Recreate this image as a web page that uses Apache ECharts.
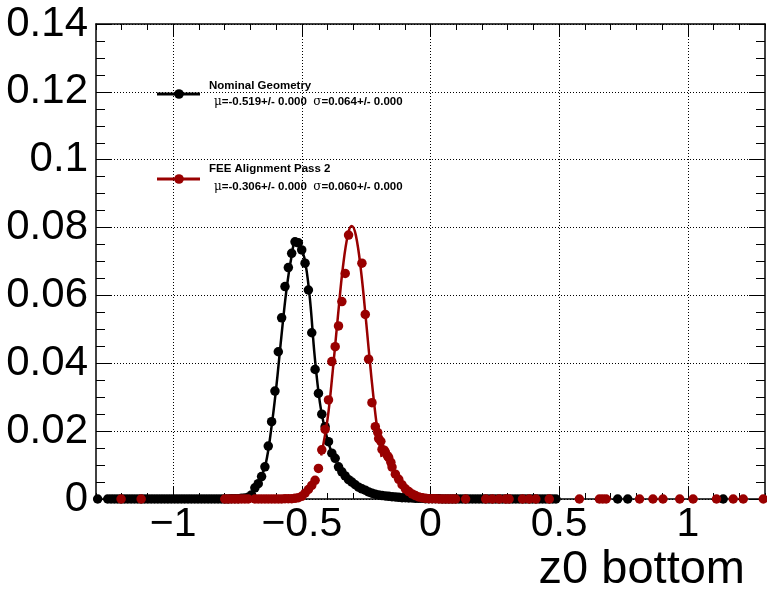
<!DOCTYPE html>
<html>
<head>
<meta charset="utf-8">
<script src="https://cdn.jsdelivr.net/npm/echarts@6/dist/echarts.min.js"></script>
<style>
html,body{margin:0;padding:0;background:#fff;}
#chart{width:767px;height:589px;}
</style>
</head>
<body>
<div id="chart"></div>
<script>
// ---------------- data ----------------
const xMajorTicks = [-1, -0.5, 0, 0.5, 1];
const yTicks = [0, 0.02, 0.04, 0.06, 0.08, 0.1, 0.12, 0.14];

// Nominal Geometry (black) histogram points
const nominalX = [
 -1.2935,-1.2545,-1.2415,-1.2285,-1.2155,-1.2025,-1.1895,-1.1765,-1.1635,-1.1505,
 -1.1375,-1.1245,-1.1115,-1.0985,-1.0855,-1.0725,-1.0595,-1.0465,-1.0335,-1.0205,
 -1.0075,-0.9945,-0.9815,-0.9685,-0.9555,-0.9425,-0.9295,-0.9165,-0.9035,-0.8905,
 -0.8775,-0.8645,-0.8515,-0.8385,-0.8255,-0.8125,-0.7995,-0.7865,-0.7735,-0.7605,
 -0.7475,-0.7345,-0.7215,-0.7085,-0.6955,-0.6825,-0.6695,-0.6565,-0.6435,-0.6305,
 -0.6175,-0.6045,-0.5915,-0.5785,-0.5655,-0.5525,-0.5395,-0.5265,-0.5135,-0.5005,
 -0.4875,-0.4745,-0.4615,-0.4485,-0.4355,-0.4225,-0.4095,-0.3965,-0.3835,-0.3705,
 -0.3575,-0.3445,-0.3315,-0.3185,-0.3055,-0.2925,-0.2795,-0.2665,-0.2535,-0.2405,
 -0.2275,-0.2145,-0.2015,-0.1885,-0.1755,-0.1625,-0.1495,-0.1365,-0.1235,-0.1105,
 -0.0975,-0.0845,-0.0715,-0.0585,-0.0455,-0.0325,-0.0195,-0.0065,0.0065,0.0195,
 0.0325,0.0455,0.0585,0.0715,0.0845,0.0975,0.1105,0.1235,0.1365,0.1495,
 0.1625,0.1755,0.1885,0.2015,0.2145,0.2275,0.2405,0.2535,0.2665,0.2795,
 0.2925,0.3055,0.3185,0.3315,0.3445,0.3575,0.3705,0.3835,0.3965,0.4095,
 0.4225,0.4355,0.4485,0.4615,0.4745,0.4875,0.7275,0.7665,1.1375
];
const nominalY = [
 0,0,0,0,0,0,0,0,0,0,
 0,0,0,0,0,0,0,0,0,0,
 0,0,0,0,0,0,0,0,0,0,
 0,0,0,0,0,0,0,0,0.0001,0.0001,
 0.0001,0.0002,0.0003,0.0005,0.0012,0.0033,0.0045,0.0066,0.0095,0.0156,
 0.0228,0.0318,0.0434,0.0534,0.0626,0.0682,0.0724,0.0758,0.0755,0.0734,
 0.0695,0.0616,0.0490,0.0382,0.0311,0.0250,0.0213,0.0169,0.0135,0.0120,
 0.0095,0.0080,0.0068,0.0057,0.0050,0.0042,0.0035,0.0030,0.0026,0.0021,
 0.0017,0.0014,0.0012,0.0010,0.0009,0.0008,0.0007,0.0006,0.0005,0.0004,
 0.0004,0.0003,0.0003,0.0002,0.0002,0.0002,0.0001,0.0001,0.0001,0.0001,
 0.0001,0,0,0,0,0,0,0,0,0,
 0,0,0,0,0,0,0,0,0,0,
 0,0,0,0,0,0,0,0,0,0,
 0,0,0,0,0,0,0,0,0
];
// Nominal fit curve
const nominalFitX = [-0.80,-0.75,-0.72,-0.70,-0.68,-0.66,-0.64,-0.62,-0.60,-0.58,-0.56,-0.54,-0.525,-0.51,-0.49,-0.47,-0.45,-0.43,-0.41,-0.39,-0.37];
const nominalFitY = [0.0000,0.0002,0.0006,0.0013,0.0030,0.0060,0.0105,0.0200,0.0325,0.0475,0.0615,0.0715,0.0756,0.0750,0.0710,0.0600,0.0420,0.0285,0.0205,0.0150,0.0115];

// FEE Alignment Pass 2 (dark red) histogram points
const feeX = [
 -1.2025,-1.1245,-0.7995,-0.7865,-0.7735,-0.7605,-0.7475,-0.7345,-0.7215,-0.7085,
 -0.6825,-0.6695,-0.6565,-0.6435,-0.6305,-0.6175,-0.6045,-0.5915,-0.5785,-0.5655,
 -0.5525,-0.5395,-0.5265,-0.5135,-0.5005,-0.4875,-0.4745,-0.4615,-0.4485,-0.4355,
 -0.4225,-0.4095,-0.3965,-0.3835,-0.3705,-0.3575,-0.3445,-0.3315,-0.3185,-0.2665,
 -0.2535,-0.2405,-0.2275,-0.2145,-0.2050,-0.2015,-0.1930,-0.1885,-0.1800,-0.1755,
 -0.1670,-0.1625,-0.1540,-0.1495,-0.1365,-0.1235,-0.1105,-0.0975,-0.0845,-0.0715,
 -0.0585,-0.0455,-0.0325,-0.0195,-0.0065,0.0065,0.0195,0.0325,0.0455,0.0585,
 0.0715,0.0845,0.0975,0.1365,0.2145,0.2405,0.2665,0.2925,0.3055,0.3575,
 0.3835,0.4095,0.4615,0.5785,0.6565,0.6695,0.6825,0.8125,0.8645,0.9035,
 0.9685,1.0205,1.1115,1.1765,1.2155,1.2935
];
const feeY = [
 0,0,0,0,0,0,0,0,0,0,
 0,0,0,0,0,0,0,0,0,0.0001,
 0.0001,0.0001,0.0002,0.0004,0.0008,0.0017,0.0028,0.0040,0.0055,0.0090,
 0.0145,0.0205,0.0292,0.0405,0.0449,0.0510,0.0582,0.0665,0.0778,0.0695,
 0.0544,0.0412,0.0284,0.0213,0.0196,0.0178,0.0170,0.0146,0.0144,0.0138,
 0.0127,0.0122,0.0108,0.0094,0.0073,0.0058,0.0042,0.0030,0.0022,0.0015,
 0.0010,0.0006,0.0004,0.0002,0.0001,0.0001,0.0001,0,0,0,
 0,0,0,0,0,0,0,0,0,0,
 0,0,0,0,0,0,0,0,0,0,
 0,0,0,0,0,0
];
// FEE fit curve
const feeFitX = [-0.425,-0.40,-0.38,-0.36,-0.34,-0.32,-0.306,-0.29,-0.27,-0.25,-0.23,-0.21,-0.19];
const feeFitY = [0.0128,0.0236,0.0377,0.0537,0.0686,0.0783,0.0805,0.0777,0.0672,0.0521,0.0361,0.0224,0.0124];

const legendTitles = ['Nominal Geometry', 'FEE Alignment Pass 2'];
const legendMu = ['-0.519', '-0.306'];
const legendSigma = ['0.064', '0.060'];
const seriesColors = ['#000000', '#990000'];
const axisTitle = 'z0 bottom';

// ---------------- chart ----------------
const zip = (xs, ys) => xs.map((x, i) => [x, ys[i]]);
const FONT = '"Liberation Sans", Arial, Helvetica, sans-serif';
const fmtX = v => (v < 0 ? '\u2212' + String(Math.abs(v)) : String(v));

const gridRect = {left: 96, right: 2, top: 24, bottom: 90};
const xBase = {type: 'value', min: -1.3, max: 1.3};
const yBase = {type: 'value', min: 0, max: 0.14, interval: 0.02};

const chart = echarts.init(document.getElementById('chart'), null, {renderer: 'canvas'});

function legendGraphic(i, yLine, yTitle, ySub) {
  return [
    {type: 'line', shape: {x1: 157, y1: yLine, x2: 200, y2: yLine}, style: {stroke: seriesColors[i], lineWidth: 3}, z: 100},
    {type: 'circle', shape: {cx: 179, cy: yLine, r: 4.8}, style: {fill: seriesColors[i]}, z: 101},
    {type: 'text', x: 209, y: yTitle, style: {text: legendTitles[i], font: 'bold 11.5px ' + FONT, fill: '#000', textVerticalAlign: 'middle'}, z: 100},
    {type: 'text', x: 214, y: ySub, style: {
      text: '{s|\u03bc}{b|=' + legendMu[i] + '+/- 0.000  }{s|\u03c3}{b|=' + legendSigma[i] + '+/- 0.000}',
      rich: {
        s: {font: '12px "DejaVu Serif", "Liberation Serif", serif', fill: '#000'},
        b: {font: 'bold 11.5px ' + FONT, fill: '#000'}
      },
      textVerticalAlign: 'middle'
    }, z: 100}
  ];
}

const option = {
  animation: false,
  backgroundColor: '#ffffff',
  grid: [Object.assign({}, gridRect), Object.assign({}, gridRect)],
  xAxis: [
    Object.assign({}, xBase, {gridIndex: 0, position: 'bottom', interval: 0.1,
      axisLine: {show: true, onZero: false, lineStyle: {color: '#000', width: 1.5}},
      axisTick: {show: true, inside: true, length: 6, lineStyle: {color: '#000', width: 1}},
      axisLabel: {show: false}, splitLine: {show: false}}),
    Object.assign({}, xBase, {gridIndex: 0, position: 'top', interval: 0.1,
      axisLine: {show: true, onZero: false, lineStyle: {color: '#000', width: 1.5}},
      axisTick: {show: true, inside: true, length: 6, lineStyle: {color: '#000', width: 1}},
      axisLabel: {show: false}, splitLine: {show: false}}),
    Object.assign({}, xBase, {gridIndex: 1, position: 'bottom',
      axisLine: {show: false, onZero: false},
      axisTick: {show: true, inside: true, length: 12, customValues: xMajorTicks, lineStyle: {color: '#000', width: 1}},
      axisLabel: {show: true, customValues: xMajorTicks, formatter: fmtX, margin: 5,
        fontFamily: FONT, fontSize: 41, color: '#000'},
      splitLine: {show: false}}),
    Object.assign({}, xBase, {gridIndex: 1, position: 'top',
      axisLine: {show: false, onZero: false},
      axisTick: {show: true, inside: true, length: 12, customValues: xMajorTicks, lineStyle: {color: '#000', width: 1}},
      axisLabel: {show: false}, splitLine: {show: false}})
  ],
  yAxis: [
    Object.assign({}, yBase, {gridIndex: 0, position: 'left',
      axisLine: {show: true, onZero: false, lineStyle: {color: '#000', width: 1.5}},
      axisTick: {show: true, inside: true, length: 16, lineStyle: {color: '#000', width: 1}},
      minorTick: {show: true, splitNumber: 4, length: 9, lineStyle: {color: '#000', width: 1}},
      axisLabel: {show: true, margin: 8, fontFamily: FONT, fontSize: 42, color: '#000',
        formatter: v => String(+v.toFixed(2))},
      splitLine: {show: true, lineStyle: {color: '#000', width: 1, type: [1, 2]}}}),
    Object.assign({}, yBase, {gridIndex: 0, position: 'right',
      axisLine: {show: true, onZero: false, lineStyle: {color: '#000', width: 1.5}},
      axisTick: {show: true, inside: true, length: 16, lineStyle: {color: '#000', width: 1}},
      minorTick: {show: true, splitNumber: 4, length: 9, lineStyle: {color: '#000', width: 1}},
      axisLabel: {show: false}, splitLine: {show: false}}),
    Object.assign({}, yBase, {gridIndex: 1, show: false}),
    Object.assign({}, yBase, {gridIndex: 1, show: false, position: 'right'})
  ],
  series: [
    {
      type: 'line', xAxisIndex: 0, yAxisIndex: 0, data: [], silent: true,
      markLine: {
        silent: true, symbol: 'none', label: {show: false},
        lineStyle: {color: '#000', width: 1, type: [1, 2]},
        data: xMajorTicks.map(v => ({xAxis: v}))
      }
    },
    {
      name: legendTitles[0], type: 'scatter', xAxisIndex: 0, yAxisIndex: 0,
      data: zip(nominalX, nominalY), symbol: 'circle', symbolSize: 9.5,
      itemStyle: {color: seriesColors[0], opacity: 1}, z: 3
    },
    {
      type: 'line', xAxisIndex: 0, yAxisIndex: 0, data: zip(nominalFitX, nominalFitY),
      smooth: 0.4, showSymbol: false, lineStyle: {color: seriesColors[0], width: 2.5}, z: 4
    },
    {
      name: legendTitles[1], type: 'scatter', xAxisIndex: 0, yAxisIndex: 0,
      data: zip(feeX, feeY), symbol: 'circle', symbolSize: 9.5,
      itemStyle: {color: seriesColors[1], opacity: 1}, z: 5
    },
    {
      type: 'line', xAxisIndex: 0, yAxisIndex: 0, data: zip(feeFitX, feeFitY),
      smooth: 0.4, showSymbol: false, lineStyle: {color: seriesColors[1], width: 2.5}, z: 6
    }
  ],
  graphic: [
    ...legendGraphic(0, 94, 86, 102),
    ...legendGraphic(1, 179, 169, 187),
    {type: 'text', right: 22, top: 547, style: {text: axisTitle, font: '47px ' + FONT, fill: '#000'}}
  ]
};
chart.setOption(option);
</script>
</body>
</html>
